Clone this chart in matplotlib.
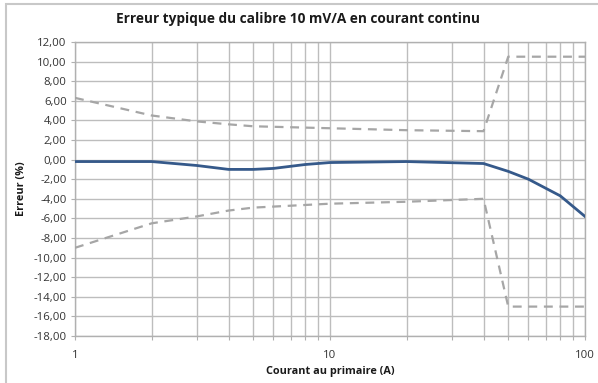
import matplotlib
matplotlib.use("Agg")
import matplotlib.pyplot as plt
from matplotlib.ticker import FixedLocator, FuncFormatter, NullFormatter
from matplotlib.patches import Rectangle

# Data
current = [1, 2, 3, 4, 5, 6, 8, 10, 20, 40, 50, 60, 80, 100]
error_typ = [-0.2, -0.2, -0.6, -1.0, -1.0, -0.9, -0.5, -0.3, -0.2, -0.4, -1.2, -2.0, -3.7, -5.8]

limit_x = [1, 2, 3, 4, 5, 10, 20, 40, 50, 100]
upper_limit = [6.3, 4.5, 3.9, 3.6, 3.4, 3.2, 3.0, 2.9, 10.5, 10.5]
lower_limit = [-9.0, -6.5, -5.8, -5.2, -4.9, -4.5, -4.3, -4.0, -15.0, -15.0]

y_ticks = list(range(-18, 13, 2))
x_major = [1, 10, 100]

title = "Erreur typique du calibre 10 mV/A en courant continu"
xlabel = "Courant au primaire (A)"
ylabel = "Erreur (%)"

plt.rcParams['font.family'] = ['Open Sans', 'DejaVu Sans']

fig = plt.figure(figsize=(5.98, 3.83), dpi=100)
ax = fig.add_axes([75/598, 1-336/383, (585-75)/598, (336-42)/383])

grid_c = '#bdbdbd'
ax.plot(limit_x, upper_limit, color='#a6a6a6', lw=1.6, dashes=(4, 3), zorder=3)
ax.plot(limit_x, lower_limit, color='#a6a6a6', lw=1.6, dashes=(4, 3), zorder=3)
ax.plot(current, error_typ, color='#35598a', lw=2.0, zorder=4)

ax.set_xscale('log')
ax.set_xlim(1, 100)
ax.set_ylim(-18, 12)
ax.xaxis.set_major_locator(FixedLocator(x_major))
ax.xaxis.set_minor_locator(FixedLocator([v * d for d in (1, 10) for v in range(2, 10)]))
ax.xaxis.set_major_formatter(FuncFormatter(lambda v, p: f"{v:g}"))
ax.xaxis.set_minor_formatter(NullFormatter())
ax.yaxis.set_major_locator(FixedLocator(y_ticks))
ax.yaxis.set_major_formatter(FuncFormatter(lambda v, p: f"{v:.2f}".replace('.', ',')))

ax.grid(True, which='both', axis='x', color=grid_c, lw=1.0)
ax.grid(True, which='major', axis='y', color=grid_c, lw=1.0)
ax.set_axisbelow(True)
for s in ax.spines.values():
    s.set_color('#b0b0b0')
    s.set_linewidth(1.0)
ax.tick_params(axis='both', which='both', colors='#b0b0b0', labelcolor='#333333',
               labelsize=8.2, length=3, width=0.8)
ax.tick_params(axis='x', which='major', pad=7)
ax.tick_params(axis='y', pad=3)

ax.set_xlabel(xlabel, fontsize=7.8, fontweight='bold', color='#1a1a1a', labelpad=4)
ax.set_ylabel(ylabel, fontsize=7.8, fontweight='bold', color='#1a1a1a', labelpad=5)
fig.text(298/598, 1-19/383, title, ha='center', va='center', fontsize=9.8,
         fontweight='bold', color='#1a1a1a')

fig.patches.append(Rectangle((6/598, -0.1), 1.2, 1 - 4/383 + 0.1, transform=fig.transFigure,
                             fill=False, edgecolor='#c8c8c8', lw=1.5))

fig.savefig('out.png', dpi=100, facecolor='white')
